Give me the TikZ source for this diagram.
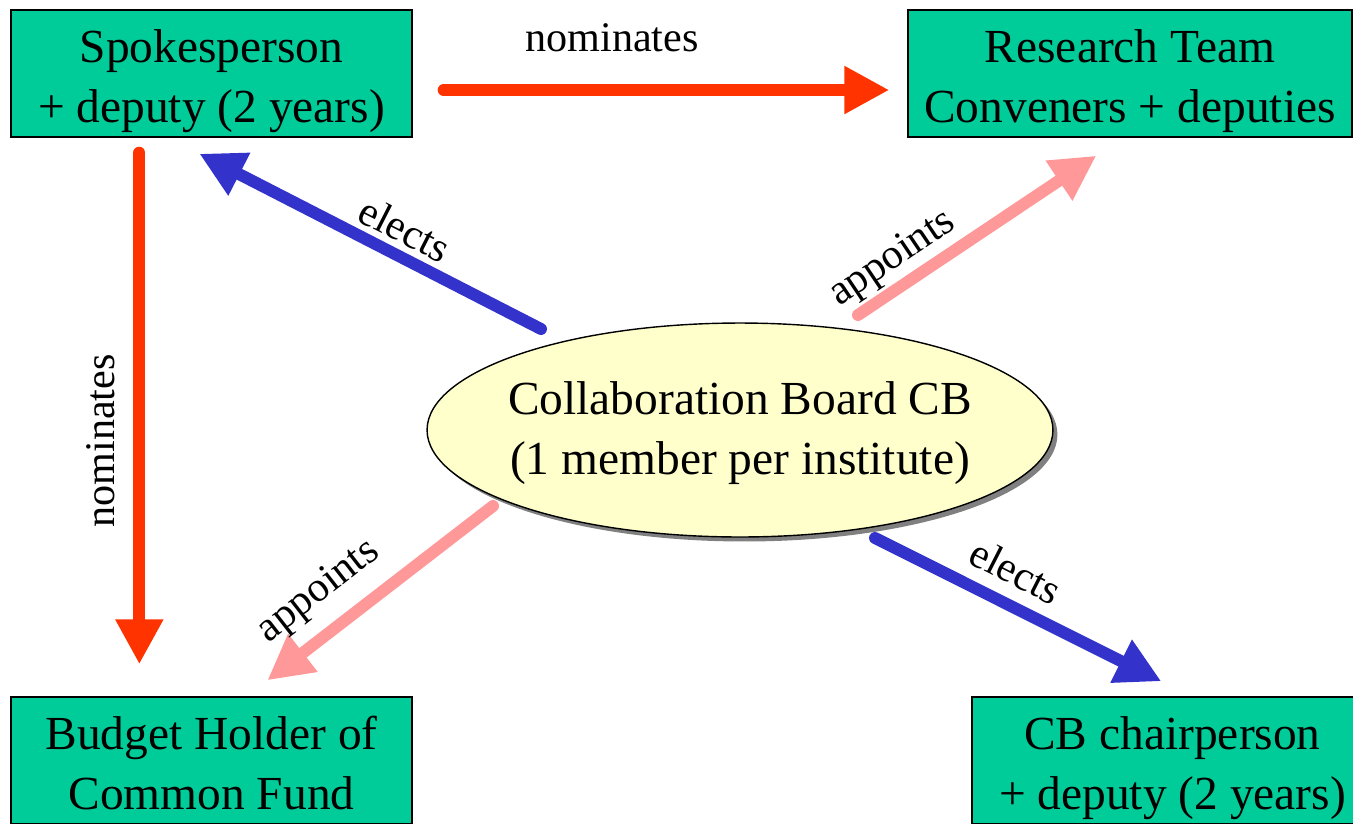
\documentclass[tikz,border=0pt]{standalone}
\usepackage{fontspec}
\setmainfont{Liberation Serif}
\usetikzlibrary{arrows.meta,shapes.geometric,shadows,calc}
\definecolor{boxgreen}{RGB}{0,204,153}
\definecolor{cbyellow}{RGB}{255,255,204}
\definecolor{nomred}{RGB}{255,51,0}
\definecolor{elblue}{RGB}{51,51,204}
\definecolor{appink}{RGB}{255,153,153}
% struts so that all boxes sit their two lines alike
\newcommand\boxtop{\rule{0pt}{29pt}}
\newcommand\boxbot{\rule[-7pt]{0pt}{7pt}}
\begin{document}
\begin{tikzpicture}[x=0.02cm,y=-0.02cm,
  box/.style={draw=black,line width=0.8pt,fill=boxgreen,align=center,
    minimum width=8.02cm,minimum height=2.54cm,inner sep=0pt,
    font=\fontsize{27}{34}\selectfont},
  cbshape/.style={ellipse,draw=black,line width=0.8pt,fill=cbyellow,
    minimum width=12.52cm,minimum height=4.28cm,inner sep=0pt,
    drop shadow={shadow xshift=0.09cm,shadow yshift=-0.09cm,fill=black!50,opacity=1}},
  cbtext/.style={align=center,inner sep=0pt,font=\fontsize{27}{34}\selectfont},
  lbl/.style={inner sep=0pt,font=\fontsize{24}{28}\selectfont},
  nominate/.style={draw=nomred,line width=6.8pt,line cap=round,
    -{Triangle[length=0.9cm,width=0.9cm]}},
  elect/.style={nominate,draw=elblue},
  appoint/.style={nominate,draw=appink}]

  \useasboundingbox (0,0) rectangle (1353,823);
  \clip (0,0) rectangle (1353,823);

  % the five bodies
  \node[box] (spokes) at (211.5,73.5) {\boxtop Spokesperson\\+ deputy (2 years)\boxbot};
  \node[box,minimum width=8.88cm] (research) at (1130,73.5) {\boxtop Research Team\\Conveners + deputies\boxbot};
  \node[box] (budget) at (211.5,760.5) {\boxtop Budget Holder of\\Common Fund\boxbot};
  \node[box] (chair) at (1172.5,760.5) {\boxtop CB chairperson\\+ deputy (2 years)\boxbot};
  \node[cbshape] (cb) at (740,430) {};
  \node[cbtext] (cbname) at ($(cb.center)+(0,3)$) {Collaboration Board CB\\(1 member per institute)};

  % who nominates, elects, appoints whom
  \draw[nominate] ($(spokes.east)+(31,16.5)$) -- ($(research.west)+(-18,16.5)$);
  \draw[nominate] ($(spokes.south west)+(129,15)$) -- ($(budget.north west)+(129,-32)$);
  \draw[elect] ($(cb.center)+(-199,-101)$) -- ($(spokes.south west)+(189,16)$);
  \draw[appoint] ($(cb.center)+(118,-115)$) -- ($(research.south west)+(189,18)$);
  \draw[appoint] ($(cb.center)+(-247,76)$) -- ($(budget.north west)+(257,-16)$);
  \draw[elect] ($(cb.center)+(135,108)$) -- ($(chair.north west)+(190,-15)$);

  \node[lbl] (nomtop) at (612,38) {nominates};
  \node[lbl,rotate=90] (nomleft) at (101,441) {nominates};
  \node[lbl,rotate=-27] (eltop) at (405,229) {elects};
  \node[lbl,rotate=34] (aptop) at (893,259) {appoints};
  \node[lbl,rotate=38] (apbot) at (319,592) {appoints};
  \node[lbl,rotate=-27] (elbot) at (1016,571) {elects};

\end{tikzpicture}
\end{document}
